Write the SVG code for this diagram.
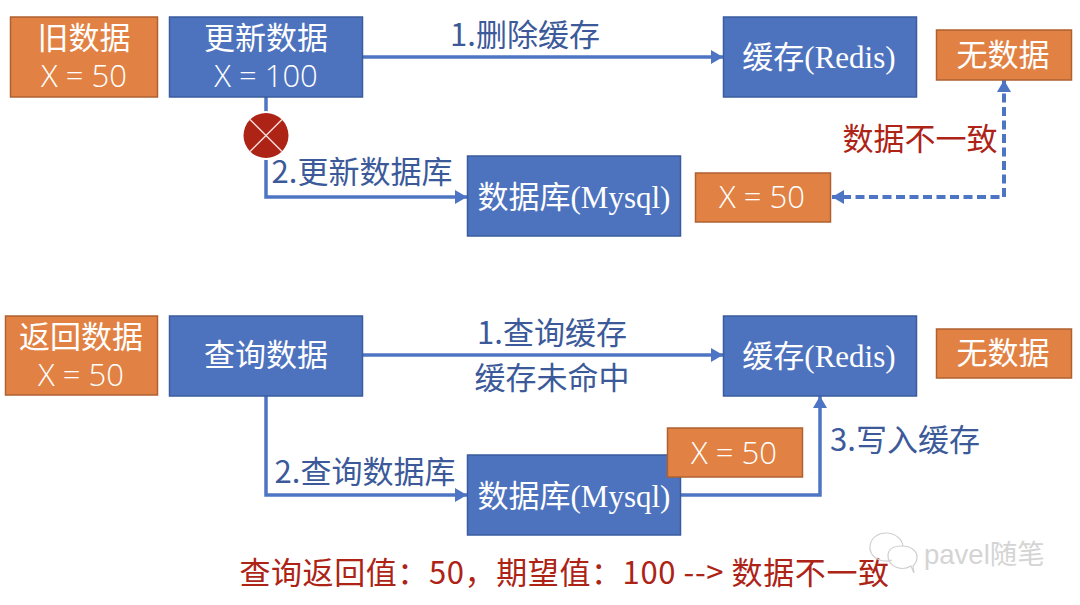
<svg xmlns="http://www.w3.org/2000/svg" width="1080" height="605" viewBox="0 0 1080 605">
<style>
.t{font-family:"Noto Sans CJK SC","Liberation Sans",sans-serif;font-size:31px;text-anchor:middle}
.w{fill:#fff}
.l{fill:#3c5a9a}
.r{fill:#ad2316}
.m{font-family:"Liberation Serif","Noto Sans CJK SC",serif}
.n{font-family:"Open Sans","Noto Sans CJK SC",sans-serif}
.x{font-weight:300}
.b{fill:#4e73be;stroke:#3a5c9e;stroke-width:1.5}
.o{fill:#e18244;stroke:#ae6030;stroke-width:1.5}
.c{fill:none;stroke:#4e75c3;stroke-width:3.5}
.d{stroke-dasharray:9 4.5;stroke-width:4}
</style>
<defs>
<marker id="a" markerUnits="userSpaceOnUse" markerWidth="13" markerHeight="14" refX="12" refY="7" orient="auto-start-reverse"><path d="M0 0L12 7L0 14Z" fill="#4e75c3"/></marker>
</defs>
<rect width="1080" height="605" fill="#fff"/>
<g id="connectors">
<path class="c" d="M363 57H723" marker-end="url(#a)"/>
<path class="c" d="M266 97V197H467" marker-end="url(#a)"/>
<path class="c d" d="M1004 80V197H832" marker-start="url(#a)" marker-end="url(#a)"/>
<path class="c" d="M363 355H723" marker-end="url(#a)"/>
<path class="c" d="M266 396V495H467" marker-end="url(#a)"/>
<path class="c" d="M681 495H820V396" marker-end="url(#a)"/>
</g>
<g id="old-data"><rect class="o" x="10.500" y="17" width="147" height="80"/><text class="t w n" x="84" y="49">旧数据</text><text class="t w n x" x="84" y="87">X = 50</text></g>
<g id="update-data"><rect class="b" x="169.500" y="17" width="193" height="80"/><text class="t w n" x="266" y="49">更新数据</text><text class="t w n x" x="266" y="87">X = 100</text></g>
<g id="cache-1"><rect class="b" x="723.500" y="17" width="193" height="80"/><text class="t w" x="819" y="68">缓存<tspan class="m">(Redis)</tspan></text></g>
<g id="none-1"><rect class="o" x="936.500" y="30" width="135" height="50"/><text class="t w n" x="1003" y="66">无数据</text></g>
<g id="fail"><circle cx="266" cy="135.500" r="24.500" fill="#fff"/><circle cx="266" cy="135.500" r="22.500" fill="#ad2316"/><path d="M250 119.500L282 151.500M282 119.500L250 151.500" stroke="#f3dcd8" stroke-width="1.500"/></g>
<g id="db-1"><rect class="b" x="467.500" y="156" width="213" height="80"/><text class="t w" x="574" y="208">数据库<tspan class="m">(Mysql)</tspan></text></g>
<g id="x50-1"><rect class="o" x="695.500" y="173" width="135" height="49"/><text class="t w n x" x="762" y="208">X = 50</text></g>
<text class="t l" x="525" y="46">1.删除缓存</text>
<text class="t l" x="362" y="183">2.更新数据库</text>
<text class="t r" x="920" y="150">数据不一致</text>
<g id="return-data"><rect class="o" x="5.500" y="316" width="152" height="79"/><text class="t w n" x="81" y="348">返回数据</text><text class="t w n x" x="81" y="386">X = 50</text></g>
<g id="query-data"><rect class="b" x="169.500" y="316" width="193" height="80"/><text class="t w n" x="266" y="366">查询数据</text></g>
<g id="cache-2"><rect class="b" x="723.500" y="316" width="193" height="80"/><text class="t w" x="819" y="367">缓存<tspan class="m">(Redis)</tspan></text></g>
<g id="none-2"><rect class="o" x="936.500" y="329" width="135" height="49"/><text class="t w n" x="1003" y="364">无数据</text></g>
<g id="db-2"><rect class="b" x="467.500" y="455" width="213" height="80"/><text class="t w" x="574" y="507">数据库<tspan class="m">(Mysql)</tspan></text></g>
<g id="x50-2"><rect class="o" x="667.500" y="428" width="135" height="49"/><text class="t w n x" x="734" y="464">X = 50</text></g>
<text class="t l" x="552" y="344">1.查询缓存</text>
<text class="t l" x="552" y="389">缓存未命中</text>
<text class="t l" x="365" y="483">2.查询数据库</text>
<text class="t l" x="905" y="451">3.写入缓存</text>
<text class="t r" x="564.500" y="584" letter-spacing="0.600">查询返回值：50，期望值：100 --&gt; 数据不一致</text>
<g id="watermark" fill="none" stroke="#cfcfcf" stroke-width="1.2">
<path d="M892 560C880 564 869 556 870 546C871 537 879 533 886 533C895 533 902 539 903 546"/>
<path d="M911 566C901 572 888 566 888 556C888 548 895 546 902 546C911 546 917 551 917 557C917 561 915 564 913 566L914 573Z"/>
<text x="924" y="564" font-family="Liberation Sans,Noto Sans CJK SC,sans-serif" font-size="27.500" fill="#d4d4d4" stroke="none">pavel随笔</text>
</g>
</svg>
